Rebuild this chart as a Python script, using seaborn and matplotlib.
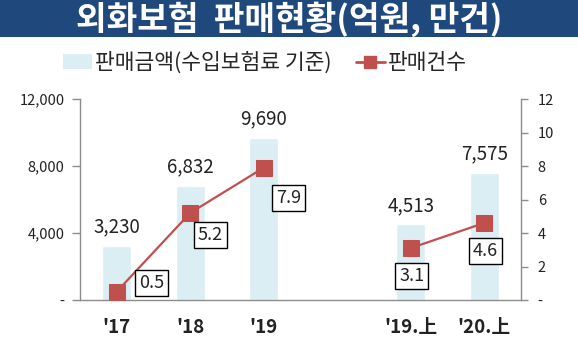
import matplotlib
matplotlib.use("Agg")
import matplotlib.pyplot as plt
from matplotlib.patches import Rectangle, Patch
from matplotlib.lines import Line2D
import seaborn as sns
import pandas as pd

# Data
periods = ["'17", "'18", "'19", " ", "'19.上", "'20.上"]
bar_periods = ["'17", "'18", "'19", "'19.上", "'20.上"]
sales_amount = [3230, 6832, 9690, 4513, 7575]          # 억원
sales_count = [0.5, 5.2, 7.9, 3.1, 4.6]                 # 만건
segments = ["annual", "annual", "annual", "half", "half"]
left_ticks = [0, 4000, 8000, 12000]
left_tick_labels = ["-", "4,000", "8,000", "12,000"]
right_ticks = [0, 2, 4, 6, 8, 10, 12]
right_tick_labels = ["-", "2", "4", "6", "8", "10", "12"]
title_text = "외화보험  판매현황(억원, 만건)"
legend_bar = "판매금액(수입보험료 기준)"
legend_line = "판매건수"

# label offsets (pixels) for the boxed count labels
count_offsets = [(35, 9), (20, -22), (25, -30), (1, -28), (1, -28)]

sns.set_style("white")
plt.rcParams["font.family"] = ["Noto Sans CJK KR", "DejaVu Sans"]

BAR_C = "#DAEEF3"
LINE_C = "#C0504D"
AX_C = "#8C8C8C"
TITLE_BG = "#1F497D"

fig = plt.figure(figsize=(5.78, 3.48), dpi=100)
ax = fig.add_axes([0.1384, 0.1379, 0.763, 0.5776])

df = pd.DataFrame({"period": bar_periods, "amount": sales_amount,
                   "count": sales_count, "segment": segments})
df["pos"] = [periods.index(p) for p in bar_periods]

sns.barplot(data=df, x="period", y="amount", order=periods, color=BAR_C,
            saturation=1, width=0.39, ax=ax)
ax.set_xlim(-0.5, len(periods) - 0.5)
ax.set_ylim(0, 12000)
ax.set_yticks(left_ticks)
ax.set_yticklabels(left_tick_labels, fontsize=10.5, color="#222222")
ax.set_xlabel("")
ax.set_ylabel("")

# ticks sit between categories, labels centered in categories
ax.set_xticks(range(len(periods)))
ax.set_xticklabels(periods, fontsize=13.5, fontweight="bold", color="#222222")
ax.tick_params(axis="x", length=0, pad=13)
ax.set_xticks([i - 0.5 for i in range(len(periods) + 1)], minor=True)
ax.tick_params(axis="x", which="minor", length=6, width=1, color=AX_C, direction="out")
ax.tick_params(axis="y", length=6, width=1, color=AX_C, direction="out", pad=5)

for s in ["top", "right"]:
    ax.spines[s].set_visible(False)
for s in ["left", "bottom"]:
    ax.spines[s].set_color(AX_C)
    ax.spines[s].set_linewidth(1)

for p, v in zip(df["pos"], df["amount"]):
    ax.annotate(f"{v:,}", (p, v), xytext=(0, 19), textcoords="offset pixels",
                ha="center", va="center", fontsize=13.5, color="#222222")

ax2 = ax.twinx()
sns.lineplot(data=df, x="pos", y="count", units="segment", estimator=None,
             color=LINE_C, linewidth=1.6, marker="s", markersize=12,
             markeredgecolor=LINE_C, ax=ax2, legend=False)
ax2.set_xlim(-0.5, len(periods) - 0.5)
ax2.set_ylim(0, 12)
ax2.set_yticks(right_ticks)
ax2.set_yticklabels(right_tick_labels, fontsize=10.5, color="#222222")
ax2.set_ylabel("")
ax2.set_xlabel("")
ax2.tick_params(axis="y", length=5, width=1, color=AX_C, direction="out", pad=7)
for s in ["top", "left", "bottom"]:
    ax2.spines[s].set_visible(False)
ax2.spines["right"].set_color(AX_C)
ax2.spines["right"].set_linewidth(1)

for p, v, (dx, dy) in zip(df["pos"], df["count"], count_offsets):
    ax2.annotate(f"{v}", (p, v), xytext=(dx, dy), textcoords="offset pixels",
                 ha="center", va="center", fontsize=13, color="#222222",
                 bbox=dict(boxstyle="square,pad=0.22", fc="white", ec="black", lw=1))

# title bar
fig.patches.append(Rectangle((0, 1 - 37 / 348), 1, 37 / 348, transform=fig.transFigure,
                             facecolor=TITLE_BG, edgecolor="none", zorder=0))
fig.text(0.5, 1 - 19 / 348, title_text, ha="center", va="center", color="white",
         fontsize=24, fontweight="bold")

handles = [Patch(facecolor=BAR_C, edgecolor="none"),
           Line2D([0], [0], color=LINE_C, lw=2, marker="s", markersize=9)]
fig.legend(handles, [legend_bar, legend_line], loc="center",
           bbox_to_anchor=(265 / 578, 1 - 63 / 348), ncol=2, frameon=False,
           fontsize=15.5, handlelength=1.35, handletextpad=0.15, columnspacing=1.1)

fig.savefig("out.png", dpi=100)
